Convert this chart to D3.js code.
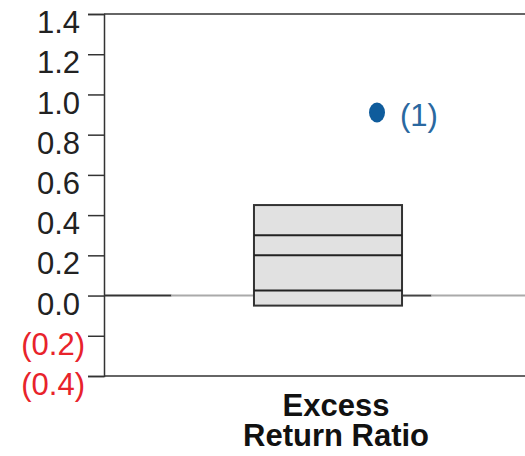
<!DOCTYPE html>
<html><head><meta charset="utf-8">
<script src="https://cdn.jsdelivr.net/npm/d3@7"></script>
<style>
html,body{margin:0;padding:0;background:#fff;}
svg{display:block;font-family:"Liberation Sans",Arial,sans-serif;}
</style></head>
<body>
<svg id="chart" width="525" height="456"></svg>
<script>
// ---- data ----
const categories = ["Excess Return Ratio"];
const categoryLines = [["Excess", "Return Ratio"]];
const boxEdges = [-0.05, 0.025, 0.20, 0.30, 0.45]; // bottom, lines..., top
const outliers = [0.91];
const outlierLabels = ["(1)"];
const tickValues = [1.4, 1.2, 1.0, 0.8, 0.6, 0.4, 0.2, 0.0, -0.2, -0.4];

(function () {
const fmt = v => v < 0 ? "(" + d3.format(".1f")(-v) + ")" : d3.format(".1f")(v);

const svg = d3.select("#chart");
const W = 525;
const mLeft = 104, mTop = 14, mBottom = 376;

const y = d3.scaleLinear().domain([-0.4, 1.4]).range([mBottom, mTop]);
const x = d3.scaleBand().domain(categories).range([mLeft, 552]).paddingOuter(1.013).paddingInner(0);

// frame lines top & bottom
svg.append("line").attr("x1", mLeft).attr("x2", W).attr("y1", y(1.4)).attr("y2", y(1.4))
  .attr("stroke", "#333").attr("stroke-width", 1.5);
svg.append("line").attr("x1", mLeft).attr("x2", W).attr("y1", y(-0.4)).attr("y2", y(-0.4))
  .attr("stroke", "#333").attr("stroke-width", 1.5);

// y axis
const yAxis = d3.axisLeft(y).tickValues(tickValues).tickSize(16).tickPadding(8).tickFormat(fmt);
const ga = svg.append("g").attr("transform", `translate(${mLeft},0)`).call(yAxis);
ga.select(".domain").attr("stroke", "#333").attr("stroke-width", 1.5);
ga.selectAll(".tick line").attr("stroke", "#333").attr("stroke-width", 1.5);
ga.selectAll(".tick text")
  .attr("font-size", 31)
  .attr("font-family", "'Liberation Sans', Arial, sans-serif")
  .attr("fill", d => d < 0 ? "#e8232b" : "#222")
  .attr("dx", d => d < 0 ? 5 : 0)
  .attr("dy", "0.6em");

// zero line (dark near ends, lighter in middle)
const bx0 = x(categories[0]), bw = x.bandwidth();
const z = y(0);
const segs = [
  [mLeft, mLeft + (bx0 - mLeft) * 0.45, "#333"],
  [mLeft + (bx0 - mLeft) * 0.45, bx0, "#aaa"],
  [bx0 + bw, bx0 + bw + (W - bx0 - bw) * 0.24, "#444"],
  [bx0 + bw + (W - bx0 - bw) * 0.24, W, "#aaa"]
];
svg.selectAll("line.zero").data(segs).join("line").attr("class", "zero")
  .attr("x1", d => d[0]).attr("x2", d => d[1]).attr("y1", z).attr("y2", z)
  .attr("stroke", d => d[2]).attr("stroke-width", 2);

// box
svg.append("rect")
  .attr("x", bx0).attr("width", bw)
  .attr("y", y(boxEdges[4])).attr("height", y(boxEdges[0]) - y(boxEdges[4]))
  .attr("fill", "#e1e1e1").attr("stroke", "#333").attr("stroke-width", 2);
svg.selectAll("line.inner").data(boxEdges.slice(1, 4)).join("line").attr("class", "inner")
  .attr("x1", bx0).attr("x2", bx0 + bw).attr("y1", d => y(d)).attr("y2", d => y(d))
  .attr("stroke", "#222").attr("stroke-width", 2);

// outlier
const cx = bx0 + bw / 2 + 49;
svg.selectAll("ellipse.out").data(outliers).join("ellipse").attr("class", "out")
  .attr("cx", cx).attr("cy", d => y(d)).attr("rx", 8).attr("ry", 10)
  .attr("fill", "#0f5c9c");
svg.selectAll("text.outl").data(outliers).join("text").attr("class", "outl")
  .attr("x", cx + 23).attr("y", d => y(d)).attr("dy", "0.42em")
  .attr("font-size", 31).attr("fill", "#2a68a0")
  .text((d, i) => outlierLabels[i]);

// category label
const lab = svg.append("text").attr("text-anchor", "middle")
  .attr("font-size", 31).attr("font-weight", "bold").attr("fill", "#111");
categoryLines[0].forEach((t, i) => {
  lab.append("tspan").attr("x", bx0 + bw / 2 + 8).attr("y", 416 + i * 30).text(t);
});
})();
</script>
</body></html>
